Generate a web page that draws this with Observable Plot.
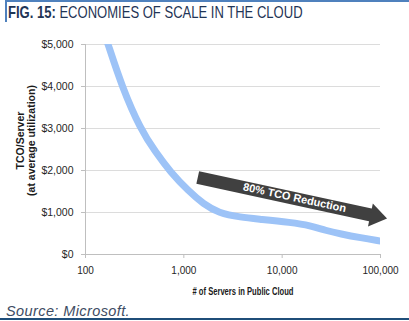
<!DOCTYPE html>
<html><head><meta charset="utf-8">
<script src="https://cdn.jsdelivr.net/npm/d3@7"></script>
<script src="https://cdn.jsdelivr.net/npm/@observablehq/plot@0.6"></script>
<style>
html,body{margin:0;padding:0;background:#fff}
body{width:409px;height:321px;overflow:hidden;position:relative;font-family:"Liberation Sans",Arial,sans-serif}
#topline{position:absolute;left:5px;top:0;width:404px;height:2px;background:#4f81bd}
#leftbar{position:absolute;left:5px;top:0;width:2px;height:22px;background:#4f81bd}
#title{position:absolute;left:8px;top:3px;font-size:16.5px;line-height:19px;color:#1f3556;white-space:nowrap;transform-origin:left top;transform:scaleX(0.79)}
#title b{font-weight:bold}
#chart{position:absolute;left:0;top:22px}
#source{position:absolute;left:6px;top:303px;font-style:italic;font-size:14.5px;line-height:16px;letter-spacing:0.4px;color:#3e4c63;white-space:nowrap}
#bottomline{position:absolute;left:0;top:318px;width:409px;height:2px;background:#1f4e79}
</style></head>
<body>
<div id="topline"></div><div id="leftbar"></div>
<div id="title"><b>FIG. 15:</b> ECONOMIES OF SCALE IN THE CLOUD</div>
<div id="chart"></div>
<div id="source">Source: Microsoft.</div>
<div id="bottomline"></div>
<script>
// Data
const xTicks = [100, 1000, 10000, 100000];
const yTicks = [0, 1000, 2000, 3000, 4000, 5000];
const servers = [135, 170, 236, 363, 515, 732, 1116, 1586, 2254, 3774, 6030, 12170, 19450, 27640, 39280, 62730, 100000];
const tco =     [5700, 5000, 3980, 2980, 2440, 1960, 1510, 1200, 990, 885, 840, 765, 690, 571, 490, 398, 321];
const arrowX = [1385, 80800];
const arrowY = [1833, 936];
const arrowLabel = "80% TCO Reduction";
const arrowLabelX = [13370];
const arrowLabelY = [1350];
const xTitle = "# of Servers in Public Cloud";
const yTitle = "TCO/Server\n(at average utilization)";

const curve = servers.map((s, i) => ({s, v: tco[i]}));
const arrowBody = arrowX.map((x, i) => ({x, y: arrowY[i]}));
const arrowHead = [{x: arrowX[1], y: arrowY[1]}];
const headSymbol = {
  draw(ctx) {
    ctx.moveTo(-1, -11.7);
    ctx.lineTo(16, 0);
    ctx.lineTo(-1, 11.7);
    ctx.closePath();
  }
};
const angle = 12;

const chart = Plot.plot({
  width: 409,
  height: 280,
  marginTop: 22,
  marginBottom: 48,
  marginLeft: 85,
  marginRight: 29,
  style: {fontFamily: "'Liberation Sans', Arial, sans-serif", fontSize: "10px", color: "#262626", background: "transparent", overflow: "visible"},
  x: {type: "log", domain: [100, 100000]},
  y: {domain: [0, 5000]},
  marks: [
    Plot.gridY(yTicks, {stroke: "#dcdcdc", strokeOpacity: 1}),
    Plot.ruleX([100], {stroke: "#bfbfbf"}),
    Plot.ruleY([0], {stroke: "#bfbfbf"}),
    Plot.axisX(xTicks, {tickSize: 4, tickPadding: 8, tickFormat: d3.format(","), stroke: "#bfbfbf", fill: "#262626", label: null}),
    Plot.axisY(yTicks, {tickSize: 4, tickPadding: 8, tickFormat: d => "$" + d3.format(",")(d), stroke: "#bfbfbf", fill: "#262626", label: null, fontSize: 10.5}),
    Plot.line(curve, {x: "s", y: "v", curve: "basis", stroke: "#9dc3f7", strokeWidth: 7, clip: true}),
    Plot.line(arrowBody, {x: "x", y: "y", stroke: "#404040", strokeWidth: 13, strokeLinecap: "butt"}),
    Plot.dot(arrowHead, {x: "x", y: "y", symbol: headSymbol, r: 1, fill: "#404040", stroke: null, rotate: angle}),
    Plot.text([arrowLabel], {x: arrowLabelX, y: arrowLabelY, text: d => d, rotate: angle, fill: "white", fontWeight: "bold", fontSize: 11, fontFamily: "'Liberation Sans', Arial, sans-serif"}),
    Plot.text([xTitle], {frameAnchor: "bottom", lineAnchor: "middle", dy: 37, dx: 10, text: d => d, fontWeight: "bold", fontSize: 10.5, fill: "#1a1a1a"}),
    Plot.text([yTitle], {frameAnchor: "left", rotate: -90, textAnchor: "middle", lineAnchor: "middle", dx: -60, dy: -9, text: d => d, fontWeight: "bold", fontSize: 10.5, lineHeight: 1.05, fill: "#1a1a1a"})
  ]
});
document.getElementById("chart").appendChild(chart);
d3.select(chart).selectAll("text").filter(function() { return this.textContent === xTitle; })
  .attr("textLength", 101).attr("lengthAdjust", "spacingAndGlyphs");
</script>
</body></html>
